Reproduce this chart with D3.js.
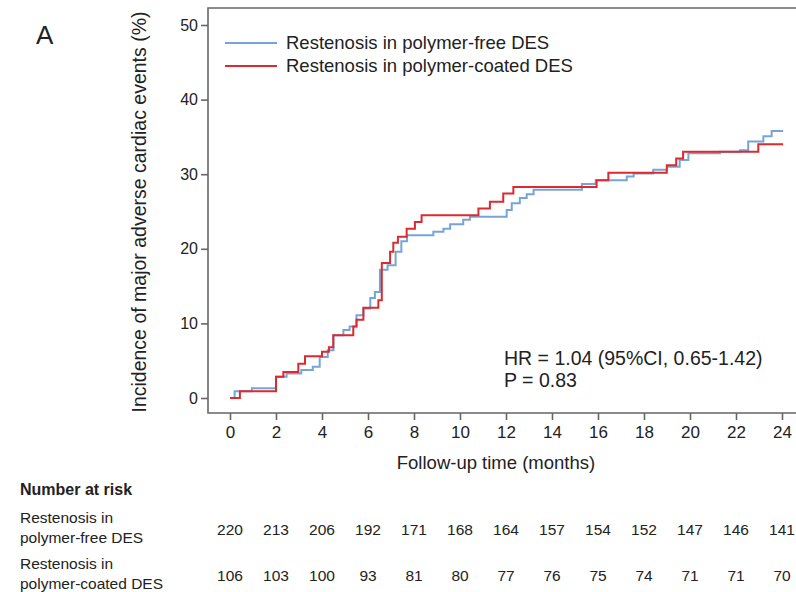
<!DOCTYPE html>
<html>
<head>
<meta charset="utf-8">
<script src="https://cdn.jsdelivr.net/npm/d3@7"></script>
<style>
  body { margin: 0; background: #fff; }
  svg text { font-family: "Liberation Sans", Arial, sans-serif; fill: #222; }
</style>
</head>
<body>
<div class="canvas"></div>
<script>
// series: [month, cumulative incidence %]
const freeTimes = [0, 0.2, 0.95, 2.0, 2.46, 3.1, 3.6, 3.9, 4.25, 4.5, 4.93, 5.2, 5.5, 5.8, 6.1, 6.3, 6.52, 6.85, 7.2, 7.45, 7.7, 8.84, 9.28, 9.57, 10.14, 10.43, 12.03, 12.25, 12.6, 12.9, 13.2, 15.3, 15.9, 17.25, 17.55, 18.4, 19.0, 19.55, 19.93, 21.3, 22.17, 22.53, 23.19, 23.55, 24.05];
const freeValues = [0, 0.9, 1.3, 2.85, 3.3, 3.75, 4.2, 5.5, 6.4, 8.4, 9.1, 9.6, 11.1, 12.0, 13.4, 14.2, 17.2, 17.8, 19.6, 21.0, 21.8, 22.3, 22.7, 23.3, 23.9, 24.3, 25.2, 26.1, 26.8, 27.3, 27.9, 28.7, 29.2, 29.7, 30.1, 30.6, 31.0, 31.9, 32.8, 33.0, 33.2, 34.4, 35.1, 35.8, 35.8];

const coatedTimes = [0, 0.43, 2.0, 2.32, 2.97, 3.26, 4.0, 4.3, 4.49, 5.36, 5.5, 5.8, 6.45, 6.6, 6.96, 7.1, 7.3, 7.68, 8.04, 8.33, 10.8, 11.3, 11.88, 12.32, 15.94, 16.45, 18.99, 19.4, 19.7, 22.97, 24.05];
const coatedValues = [0, 0.9, 2.85, 3.5, 4.6, 5.6, 6.2, 6.8, 8.4, 9.6, 10.5, 12.1, 13.1, 18.1, 19.6, 20.8, 21.6, 22.7, 23.6, 24.5, 25.4, 26.3, 27.4, 28.3, 29.2, 30.2, 31.2, 32.1, 33.0, 34.0, 34.0];

const seriesNames = ['Restenosis in polymer-free DES', 'Restenosis in polymer-coated DES'];
const seriesColors = ['#75a5d8', '#dc2a2e'];

const xTicks = [0, 2, 4, 6, 8, 10, 12, 14, 16, 18, 20, 22, 24];
const yTicks = [0, 10, 20, 30, 40, 50];

const riskFree = [220, 213, 206, 192, 171, 168, 164, 157, 154, 152, 147, 146, 141];
const riskCoated = [106, 103, 100, 93, 81, 80, 77, 76, 75, 74, 71, 71, 70];
const riskLabels = [['Restenosis in', 'polymer-free DES'], ['Restenosis in', 'polymer-coated DES']];

const W = 796, H = 592;
const frame = { left: 208, top: 8, bottom: 413, right: W };

const svg = d3.select('.canvas')
  .append('svg')
  .attr('width', W)
  .attr('height', H);

const x = d3.scaleLinear().domain([0, 24]).range([230, 782]);
const y = d3.scaleLinear().domain([0, 50]).range([398, 25]);

// frame: left, top, bottom (open on the right)
svg.append('path')
  .attr('d', `M${frame.right},${frame.top}H${frame.left}V${frame.bottom}H${frame.right}`)
  .attr('fill', 'none')
  .attr('stroke', '#666')
  .attr('stroke-width', 1.6);

const xAxis = svg.append('g')
  .attr('transform', `translate(0, ${frame.bottom})`)
  .call(d3.axisBottom(x).tickValues(xTicks).tickSize(7).tickPadding(6));

const yAxis = svg.append('g')
  .attr('transform', `translate(${frame.left}, 0)`)
  .call(d3.axisLeft(y).tickValues(yTicks).tickSize(7).tickPadding(3));

[xAxis, yAxis].forEach(ax => {
  ax.select('.domain').remove();
  ax.selectAll('line').attr('stroke', '#666').attr('stroke-width', 1.6);
  ax.selectAll('text').attr('font-size', 16).attr('fill', '#222');
});
xAxis.selectAll('text').attr('font-size', 17);

// axis titles
svg.append('text')
  .attr('x', 496)
  .attr('y', 469)
  .attr('text-anchor', 'middle')
  .attr('font-size', 18.5)
  .text('Follow-up time (months)');

svg.append('text')
  .attr('transform', `translate(146, 212) rotate(-90)`)
  .attr('text-anchor', 'middle')
  .attr('font-size', 19.5)
  .text('Incidence of major adverse cardiac events (%)');

svg.append('text')
  .attr('x', 36)
  .attr('y', 44)
  .attr('font-size', 26)
  .text('A');

// curves
const line = d3.line()
  .x(d => x(d[0]))
  .y(d => y(d[1]))
  .curve(d3.curveStepAfter);

const series = [
  d3.zip(freeTimes, freeValues),
  d3.zip(coatedTimes, coatedValues)
];

svg.selectAll('.km')
  .data(series)
  .enter()
  .append('path')
    .attr('class', 'km')
    .attr('d', line)
    .attr('fill', 'none')
    .attr('stroke', (d, i) => seriesColors[i])
    .attr('stroke-width', 2);

// legend
const legend = svg.append('g');
seriesNames.forEach((name, i) => {
  const ly = 43 + i * 23;
  legend.append('line')
    .attr('x1', 225).attr('x2', 277)
    .attr('y1', ly).attr('y2', ly)
    .attr('stroke', seriesColors[i])
    .attr('stroke-width', 2);
  legend.append('text')
    .attr('x', 286)
    .attr('y', ly)
    .attr('dy', '0.35em')
    .attr('font-size', 18.5)
    .text(name);
});

// stats
svg.append('text')
  .attr('x', 504).attr('y', 365)
  .attr('font-size', 19.5)
  .text('HR = 1.04 (95%CI, 0.65-1.42)');
svg.append('text')
  .attr('x', 504).attr('y', 387)
  .attr('font-size', 19.5)
  .text('P = 0.83');

// number at risk table
svg.append('text')
  .attr('x', 20).attr('y', 495)
  .attr('font-size', 16)
  .attr('font-weight', 'bold')
  .text('Number at risk');

const rows = [riskFree, riskCoated];
const rowY = [530, 576];
rows.forEach((vals, r) => {
  const g = svg.append('g');
  riskLabels[r].forEach((lab, k) => {
    g.append('text')
      .attr('x', 20)
      .attr('y', rowY[r] - 12 + k * 20)
      .attr('dy', '0.35em')
      .attr('font-size', 15.5)
      .text(lab);
  });
  g.selectAll('.num')
    .data(vals)
    .enter()
    .append('text')
      .attr('class', 'num')
      .attr('x', (d, i) => x(xTicks[i]))
      .attr('y', rowY[r])
      .attr('dy', '0.35em')
      .attr('text-anchor', 'middle')
      .attr('font-size', 15.5)
      .text(d => d);
});
</script>
</body>
</html>
